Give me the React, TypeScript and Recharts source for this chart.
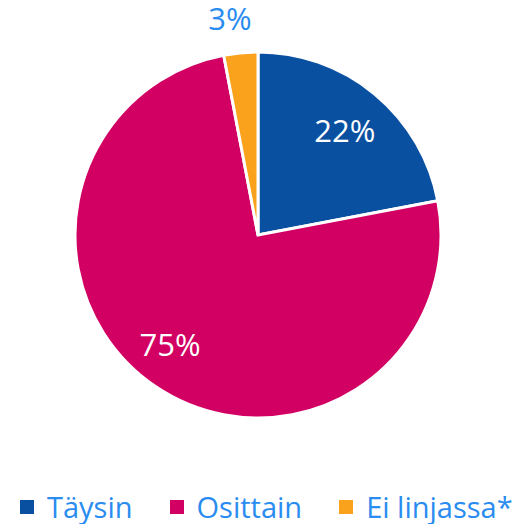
import { PieChart, Pie, Cell } from 'recharts';

const categories = ['Täysin', 'Osittain', 'Ei linjassa*'];
const shares = [22, 75, 3];
const colors = ['#0A50A1', '#D20062', '#FAA21B'];

const data = categories.map((name, i) => ({ name, value: shares[i] }));

const FONT = '"Open Sans", "Noto Sans", sans-serif';
const RAD = Math.PI / 180;

// label radius (relative to outer radius) and angle nudge per slice
const labelPos = [
  { k: 0.745, d: 0 },
  { k: 0.765, d: -4.7 },
  { k: 1.195, d: 2 },
];

const renderLabel = (props: any) => {
  const { cx, cy, midAngle, outerRadius, index, value } = props;
  const outside = index === 2;
  const r = outerRadius * labelPos[index].k;
  const a = (midAngle + labelPos[index].d) * RAD;
  const x = cx + r * Math.cos(-a);
  const y = cy + r * Math.sin(-a);
  return (
    <text
      x={x}
      y={y}
      fill={outside ? '#2A8CF0' : '#ffffff'}
      textAnchor="middle"
      dominantBaseline="central"
      fontSize={31}
      fontFamily={FONT}
    >
      {value}%
    </text>
  );
};

function ChartLegend() {
  return (
    <div
      style={{
        position: 'absolute',
        left: 20,
        top: 491,
        display: 'flex',
        alignItems: 'center',
        fontFamily: FONT,
        fontSize: 29,
        lineHeight: '32px',
        color: '#2A8CF0',
        whiteSpace: 'nowrap',
      }}
    >
      {categories.map((name, i) => (
        <div key={name} style={{ display: 'flex', alignItems: 'center', marginRight: i < 2 ? 37 : 0 }}>
          <span style={{ width: 14, height: 14, background: colors[i], marginRight: 13, display: 'inline-block' }} />
          <span>{name}</span>
        </div>
      ))}
    </div>
  );
}

export default function App() {
  return (
    <div style={{ position: 'absolute', left: 0, top: 0, width: 515, height: 524 }}>
      <PieChart width={515} height={490} margin={{ top: 0, right: 0, bottom: 0, left: 0 }}>
        <Pie
          data={data}
          dataKey="value"
          nameKey="name"
          cx={258}
          cy={235}
          outerRadius={183}
          startAngle={90}
          endAngle={-270}
          stroke="#ffffff"
          strokeWidth={3}
          label={renderLabel}
          labelLine={false}
          isAnimationActive={false}
        >
          {data.map((d, i) => (
            <Cell key={d.name} fill={colors[i]} />
          ))}
        </Pie>
      </PieChart>
      <ChartLegend />
    </div>
  );
}
